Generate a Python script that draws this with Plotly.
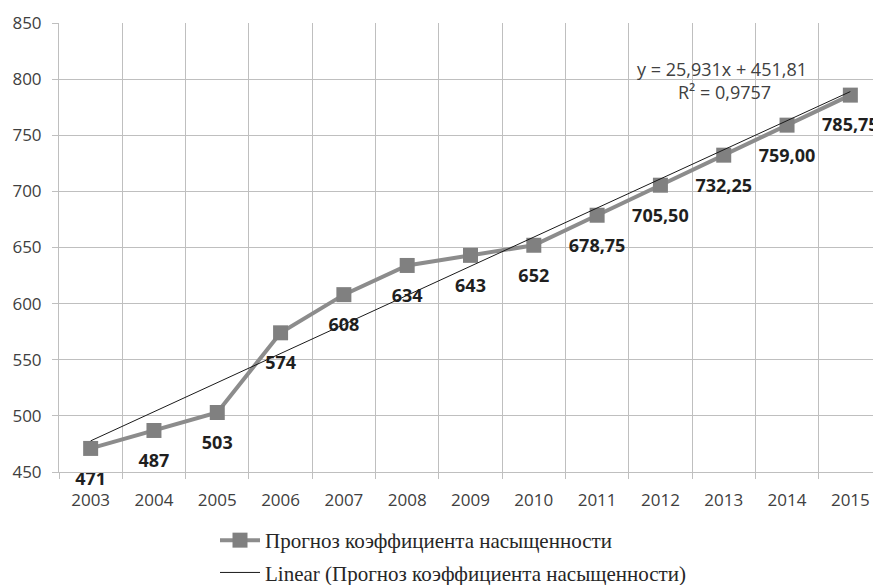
import numpy as np
import plotly.graph_objects as go

years = ["2003", "2004", "2005", "2006", "2007", "2008", "2009",
         "2010", "2011", "2012", "2013", "2014", "2015"]
values = [471, 487, 503, 574, 608, 634, 643, 652, 678.75, 705.5, 732.25, 759.0, 785.75]
labels = ["471", "487", "503", "574", "608", "634", "643", "652",
          "678,75", "705,50", "732,25", "759,00", "785,75"]
series_name = "Прогноз коэффициента насыщенности"
trend_name = "Linear (Прогноз коэффициента насыщенности)"

idx = np.arange(1, len(values) + 1)
slope, intercept = np.polyfit(idx, values, 1)
trend = slope * idx + intercept
pred = np.array(values)
r2 = 1 - np.sum((pred - trend) ** 2) / np.sum((pred - pred.mean()) ** 2)

def fmt(v, d):
    return f"{v:.{d}f}".replace(".", ",")

eq_text = f"y = {fmt(slope, 3)}x + {fmt(intercept, 2)}"
r2_text = f"R² = {fmt(r2, 4)}"

fig = go.Figure()
fig.add_trace(go.Scatter(
    x=years, y=values, name=series_name, mode="lines+markers",
    line=dict(color="#8c8c8c", width=4),
    marker=dict(symbol="square", size=15, color="#808080"),
    legendgroup="a",
))
fig.add_trace(go.Scatter(
    x=years, y=trend, name=trend_name, mode="lines",
    line=dict(color="#1a1a1a", width=1),
    legendgroup="b",
))
# data labels (text-only trace, invisible spacer marker pushes text down)
fig.add_trace(go.Scatter(
    x=years, y=values, mode="markers+text", showlegend=False, hoverinfo="skip",
    marker=dict(size=35, opacity=0), cliponaxis=False,
    text=labels, textposition="bottom center",
    textfont=dict(family="Open Sans", size=18, color="#1f1f1f", weight="bold"),
))

PL, PW = 51, 823
fig.add_annotation(x=(714 - PL) / PW, y=809, xref="paper", yref="y", text=eq_text,
                   showarrow=False, xanchor="center",
                   font=dict(family="Open Sans", size=18, color="#404040"))
fig.add_annotation(x=(716 - PL) / PW, y=788.5, xref="paper", yref="y", text=r2_text,
                   showarrow=False, xanchor="center",
                   font=dict(family="Open Sans", size=18, color="#404040"))

grid = "#bfbfbf"
fig.update_layout(
    width=881, height=585,
    margin=dict(l=PL, r=881 - PL - PW, t=15, b=121, autoexpand=False),
    paper_bgcolor="white", plot_bgcolor="white",
    font=dict(family="Open Sans", size=16, color="#404040"),
    showlegend=True,
    legend=dict(orientation="v", x=(207 - PL) / PW, xanchor="left", y=-48 / 449, yanchor="top",
                font=dict(family="Liberation Serif", size=21, color="#262626"),
                traceorder="grouped", tracegroupgap=2, itemwidth=40),
    xaxis=dict(type="category", tickson="boundaries", showgrid=True, gridcolor=grid, gridwidth=1,
               ticks="outside", ticklen=6, tickcolor=grid, showline=True, linecolor=grid,
               tickfont=dict(size=17, color="#404040"), range=[-0.5, 12.5],
               automargin=False, ticklabelstandoff=13),
    yaxis=dict(range=[450, 850], dtick=50, showgrid=True, gridcolor=grid, gridwidth=1,
               ticks="outside", ticklen=6, tickcolor=grid, showline=True, linecolor=grid,
               zeroline=False, tickfont=dict(size=17, color="#404040"),
               automargin=False, ticklabelstandoff=7),
)
fig.write_html("out.html")
